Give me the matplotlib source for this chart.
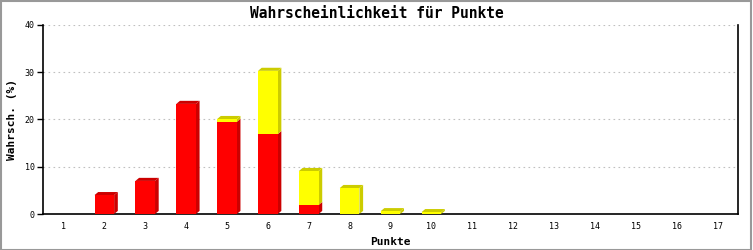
import matplotlib.pyplot as plt
import matplotlib.patches as patches
import numpy as np

punkte = list(range(1, 18))
rot = [0, 4.0, 7.0, 23.3, 19.5, 16.9, 1.9, 0, 0, 0, 0, 0, 0, 0, 0, 0, 0]
gelb = [0, 0, 0, 0, 0.6, 13.4, 7.2, 5.5, 0.6, 0.4, 0, 0, 0, 0, 0, 0, 0]
y_ticks = [0, 10, 20, 30, 40]

mono = 'DejaVu Sans Mono'

fig = plt.figure(figsize=(7.53, 2.5), dpi=100, facecolor='white')
ax = fig.add_axes([43 / 753, 36 / 250, 695 / 753, 189 / 250])

bar_w = 0.48
dx = 0.09      # depth offset in x (data units)
dy = 0.65      # depth offset in y (data units)


def box(x, y0, y1, front, side, top_face):
    left = x - bar_w / 2
    right = x + bar_w / 2
    # side face
    ax.add_patch(patches.Polygon([(right, y0), (right + dx, y0 + dy), (right + dx, y1 + dy), (right, y1)],
                                 closed=True, facecolor=side, edgecolor='none', zorder=3))
    if top_face:
        ax.add_patch(patches.Polygon([(left, y1), (left + dx, y1 + dy), (right + dx, y1 + dy), (right, y1)],
                                     closed=True, facecolor=side, edgecolor='none', zorder=3))
    ax.add_patch(patches.Rectangle((left, y0), bar_w, y1 - y0, facecolor=front, edgecolor='none', zorder=4))


for x, r, g in zip(punkte, rot, gelb):
    if r > 0:
        box(x, 0, r, '#ff0000', '#cc0000', g == 0)
    if g > 0:
        box(x, r, r + g, '#ffff00', '#cccc00', True)

ax.set_xlim(0.5, 17.5)
ax.set_ylim(0, 40)
ax.set_yticks(y_ticks)
ax.set_xticks(punkte)
ax.set_xticklabels([str(p) for p in punkte], fontsize=6, family=mono)
ax.set_yticklabels([str(v) for v in y_ticks], fontsize=6, family=mono)
ax.tick_params(axis='x', length=0, pad=6)
ax.tick_params(axis='y', length=4, width=1, direction='out', pad=2)

ax.grid(axis='y', color='#c0c0c0', linestyle=(0, (1.5, 3)), linewidth=0.8, zorder=1)
ax.set_axisbelow(True)

for s in ['left', 'bottom', 'right']:
    ax.spines[s].set_linewidth(1.2)
    ax.spines[s].set_color('black')
ax.spines['top'].set_visible(False)

ax.set_xlabel('Punkte', fontsize=8, family=mono, fontweight='bold', labelpad=4)
ax.set_ylabel('Wahrsch. (%)', fontsize=8, family=mono, fontweight='bold', va='center')
ax.yaxis.set_label_coords(-31 / 695, 0.5)
fig.text(0.5, 0.948, 'Wahrscheinlichkeit für Punkte', ha='center', va='center',
         fontsize=10.5, family=mono, fontweight='bold')

fig.patches.append(patches.Rectangle((0.001, 0.002), 0.997, 0.995, transform=fig.transFigure,
                                     fill=False, edgecolor='#999999', linewidth=1.5))

fig.savefig('out.png', dpi=100)
